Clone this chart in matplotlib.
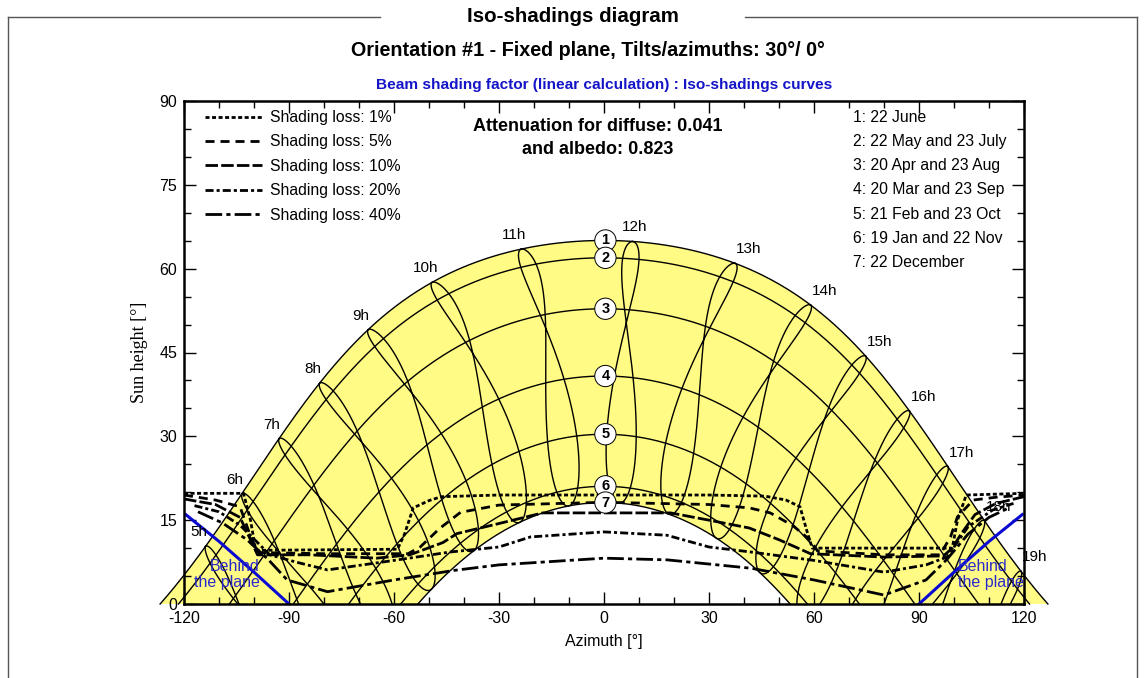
import numpy as np
import matplotlib
matplotlib.use("Agg")
import matplotlib.pyplot as plt
from matplotlib.lines import Line2D

plt.rcParams['font.family'] = ['Liberation Sans', 'DejaVu Sans']
plt.rcParams['lines.scale_dashes'] = False
plt.rcParams['axes.unicode_minus'] = False

# ---------------- data ----------------
LATITUDE = 48.4            # deg, read from the 22 June noon height (65 deg)
TIME_SHIFT_MIN = 16.8      # legal -> solar time shift (min)
DECL_AMPL = 23.45
DATE_LABELS = ["1: 22 June", "2: 22 May and 23 July", "3: 20 Apr and 23 Aug",
               "4: 20 Mar and 23 Sep", "5: 21 Feb and 23 Oct",
               "6: 19 Jan and 22 Nov", "7: 22 December"]
DATE_NUMBERS = ["1", "2", "3", "4", "5", "6", "7"]
DATE_DAYS = [173, 142, 110, 79, 52, 19, 356]
HOURS = [5, 6, 7, 8, 9, 10, 11, 12, 13, 14, 15, 16, 17, 18, 19]

LOSS_LABELS = ["Shading loss: 1%", "Shading loss: 5%", "Shading loss: 10%",
               "Shading loss: 20%", "Shading loss: 40%"]
L1_AZ = [-120, -103, -101, -99.5, -59, -57, -54.5, -50, -46.5, -30, 0, 30, 46, 52, 56, 58, 59.5, 99.5, 101, 103.5, 120]
L1_H = [19.8, 19.8, 15.0, 9.6, 9.8, 12.5, 17.2, 18.5, 19.2, 19.5, 19.5, 19.5, 19.3, 18.6, 17.4, 13.0, 10.0, 10.0, 15.0, 19.5, 19.8]
L5_AZ = [-120, -111, -104, -101.5, -99, -80, -56, -52.5, -47, -41, -30, 0, 30, 41.5, 47.5, 54, 59, 61, 80, 96, 99, 101, 105.5, 112, 120]
L5_H = [19.5, 18.6, 17.4, 13.0, 9.2, 9.0, 9.0, 10.2, 13.5, 16.4, 17.7, 18.2, 17.8, 17.2, 16.3, 14.0, 11.4, 9.5, 8.8, 8.8, 12.0, 15.6, 18.6, 19.1, 19.5]
L10_AZ = [-120, -111, -104, -101, -99, -84, -65, -55.5, -46, -42, -30, -17.5, 0, 19, 30, 41.5, 50, 59, 80, 97, 99.5, 102, 106, 112, 120]
L10_H = [18.8, 17.8, 15.5, 11.5, 8.8, 8.8, 8.2, 8.8, 11.0, 12.6, 14.4, 16.3, 16.3, 16.3, 15.0, 13.6, 11.5, 9.0, 8.4, 8.6, 10.0, 12.5, 16.0, 18.0, 19.2]
L20_AZ = [-117, -110, -104, -99, -95.5, -88, -79, -60, -44, -30, -21, 0, 18, 30, 42, 60, 80, 92, 98, 104, 111, 117]
L20_H = [17.6, 16.5, 14.1, 11.0, 8.8, 7.5, 6.1, 7.8, 9.3, 10.2, 12.0, 12.9, 12.3, 10.2, 9.3, 7.8, 5.7, 7.0, 8.4, 13.8, 16.8, 18.0]
L40_AZ = [-116, -109, -102, -96, -90.5, -79, -60, -43, -30, 0, 18, 42, 60, 80, 92, 98, 104, 110, 116]
L40_H = [16.5, 14.5, 11.5, 8.0, 4.3, 2.2, 4.3, 6.0, 7.0, 8.2, 7.9, 6.4, 4.3, 1.6, 4.3, 8.0, 12.5, 15.5, 17.3]

BEHIND_L_AZ = [-119.5, -110, -100, -90]
BEHIND_L_H = [16.0, 11.2, 5.7, 0.0]
BEHIND_R_AZ = [90, 100, 110, 119.5]
BEHIND_R_H = [0.0, 5.7, 11.2, 16.0]

ATTEN_TEXT = "Attenuation for diffuse: 0.041\nand albedo: 0.823"

# ---------------- styles ----------------
YELLOW = '#fffb84'
BLUE = '#1414c8'
LOSS_DASHES = [(0, (2.9, 1.8)), (0, (6.5, 4.3)), (0, (9.0, 2.3)),
               (0, (5.8, 2.2, 2.2, 2.2)), (0, (12, 3, 3, 3))]
LOSS_LW = 2.0


def declination(doy):
    return DECL_AMPL * np.sin(2 * np.pi * (284 + np.asarray(doy, float)) / 365.0)


def altaz_from_hour_angle(H_deg, decl_deg):
    phi = np.radians(LATITUDE)
    d = np.radians(decl_deg)
    H = np.radians(H_deg)
    sinh = np.sin(phi) * np.sin(d) + np.cos(phi) * np.cos(d) * np.cos(H)
    h = np.degrees(np.arcsin(np.clip(sinh, -1, 1)))
    az = np.degrees(np.arctan2(np.sin(H), np.cos(H) * np.sin(phi) - np.tan(d) * np.cos(phi)))
    return az, h


def sun_at_legal_time(doy, legal_hour):
    doy = np.asarray(doy, float)
    B = 2 * np.pi * (doy - 81) / 364.0
    eot = 9.87 * np.sin(2 * B) - 7.53 * np.cos(B) - 1.5 * np.sin(B)
    solar = legal_hour + (TIME_SHIFT_MIN + eot) / 60.0
    return altaz_from_hour_angle(15.0 * (solar - 12.0), declination(doy))


def day_path(doy):
    d = declination(doy)
    H0 = np.degrees(np.arccos(-np.tan(np.radians(LATITUDE)) * np.tan(np.radians(d))))
    H = np.linspace(-H0, H0, 600)
    return altaz_from_hour_angle(H, d)


W, Hpx = 1145, 678
fig = plt.figure(figsize=(W / 100, Hpx / 100), dpi=100)
ax = fig.add_axes([184 / W, 1 - 604 / Hpx, 840 / W, 503 / Hpx])
ax.set_xlim(-120, 120)
ax.set_ylim(0, 90)

# yellow band between June and December paths
azJ, hJ = day_path(DATE_DAYS[0])
azD, hD = day_path(DATE_DAYS[-1])
ax.fill(np.r_[azJ, azD[::-1]], np.r_[hJ, hD[::-1]], color=YELLOW, lw=0,
        clip_on=False, zorder=1)

# date curves
noon_heights = []
for doy in DATE_DAYS:
    az, h = day_path(doy)
    ax.plot(az, h, color='black', lw=1.0, clip_on=False, zorder=2)
    noon_heights.append(h.max())

# hour lines (over the year)
days = np.linspace(DATE_DAYS[0], DATE_DAYS[0] + 365, 1461)
for hr in HOURS:
    az, h = sun_at_legal_time(days, hr)
    h = np.where(h > 0.05, h, np.nan)
    ax.plot(az, h, color='black', lw=1.0, clip_on=False, zorder=2)
    azj, hj = sun_at_legal_time(DATE_DAYS[0], hr)
    dx = -7 if hr < 12 else (2 if hr == 12 else 14)
    ax.annotate(f"{hr}h", xy=(float(azj), float(hj)), xytext=(dx, 14),
                textcoords='offset pixels', ha='center', va='center',
                fontsize=11, annotation_clip=False, zorder=6)

# behind the plane
ax.plot(BEHIND_L_AZ, BEHIND_L_H, color='#0a0ad2', lw=2.2, zorder=3)
ax.plot(BEHIND_R_AZ, BEHIND_R_H, color='#0a0ad2', lw=2.2, zorder=3)
ax.text(-98.4, 5.3, "Behind\nthe plane", color='#2a2acc', fontsize=11.5,
        ha='right', va='center', multialignment='right', linespacing=1.05, zorder=6)
ax.text(101.1, 5.3, "Behind\nthe plane", color='#2a2acc', fontsize=11.5,
        ha='left', va='center', multialignment='left', linespacing=1.05, zorder=6)

# iso-shading curves
loss_az = [L1_AZ, L5_AZ, L10_AZ, L20_AZ, L40_AZ]
loss_h = [L1_H, L5_H, L10_H, L20_H, L40_H]
handles = []
for a, hh, ls, lab in zip(loss_az, loss_h, LOSS_DASHES, LOSS_LABELS):
    ax.plot(a, hh, color='black', lw=LOSS_LW, linestyle=ls, zorder=4)
    handles.append(Line2D([], [], color='black', lw=LOSS_LW, linestyle=ls, label=lab))

# date circle labels
for num, hn in zip(DATE_NUMBERS, noon_heights):
    ax.text(0.4, hn, num, fontsize=10.5, fontweight='bold', ha='center', va='center',
            zorder=7, bbox=dict(boxstyle='circle,pad=0.25', fc='white', ec='black', lw=0.7))

# legends / texts
leg = ax.legend(handles=handles, loc='upper left', bbox_to_anchor=(0.025, 0.982),
                frameon=False, fontsize=11.3, handlelength=3.6, handletextpad=0.55,
                labelspacing=0.6, borderpad=0.0, borderaxespad=0.0)
leg.set_zorder(8)
for i, lab in enumerate(DATE_LABELS):
    ax.text(0.796, 0.968 - i * 0.0483, lab, transform=ax.transAxes, fontsize=11.3,
            ha='left', va='center', zorder=8)
ax.text(0.493, 0.927, ATTEN_TEXT, transform=ax.transAxes, fontsize=13,
        fontweight='bold', ha='center', va='center', linespacing=1.45, zorder=8)

# axes styling
ax.set_xticks([-120, -90, -60, -30, 0, 30, 60, 90, 120])
ax.set_xticks(np.arange(-120, 121, 10), minor=True)
ax.set_yticks([0, 15, 30, 45, 60, 75, 90])
ax.set_yticks(np.arange(0, 91, 5), minor=True)
ax.tick_params(which='both', direction='in', top=True, right=True, labelsize=11.5, width=1.0)
ax.tick_params(which='major', length=8.5, pad=5)
ax.tick_params(which='minor', length=5)
for s in ax.spines.values():
    s.set_linewidth(1.8)
    s.set_zorder(9)
ax.set_xlabel("Azimuth [°]", fontsize=11.5, labelpad=6)
ax.set_ylabel("Sun height [°]", fontsize=13, family=['Liberation Serif', 'DejaVu Serif'], labelpad=8)

# figure frame and titles
fc = '#555555'
fig.add_artist(Line2D([8 / W, 8 / W], [1 - 17 / Hpx, 0], transform=fig.transFigure, color=fc, lw=1.0))
fig.add_artist(Line2D([1137 / W, 1137 / W], [1 - 17 / Hpx, 0], transform=fig.transFigure, color=fc, lw=1.0))
fig.add_artist(Line2D([8 / W, 380 / W], [1 - 17 / Hpx] * 2, transform=fig.transFigure, color=fc, lw=1.0))
fig.add_artist(Line2D([745 / W, 1137 / W], [1 - 17 / Hpx] * 2, transform=fig.transFigure, color=fc, lw=1.0))
fig.text(573 / W, 1 - 17 / Hpx, "Iso-shadings diagram", fontsize=14.8, fontweight='bold',
         ha='center', va='center')
fig.text(588 / W, 1 - 50 / Hpx, "Orientation #1 - Fixed plane, Tilts/azimuths: 30°/ 0°",
         fontsize=14.2, fontweight='bold', ha='center', va='center')
fig.text(604 / W, 1 - 85 / Hpx, "Beam shading factor (linear calculation) : Iso-shadings curves",
         fontsize=11.1, fontweight='bold', color=BLUE, ha='center', va='center')

fig.savefig("out.png", dpi=100)
